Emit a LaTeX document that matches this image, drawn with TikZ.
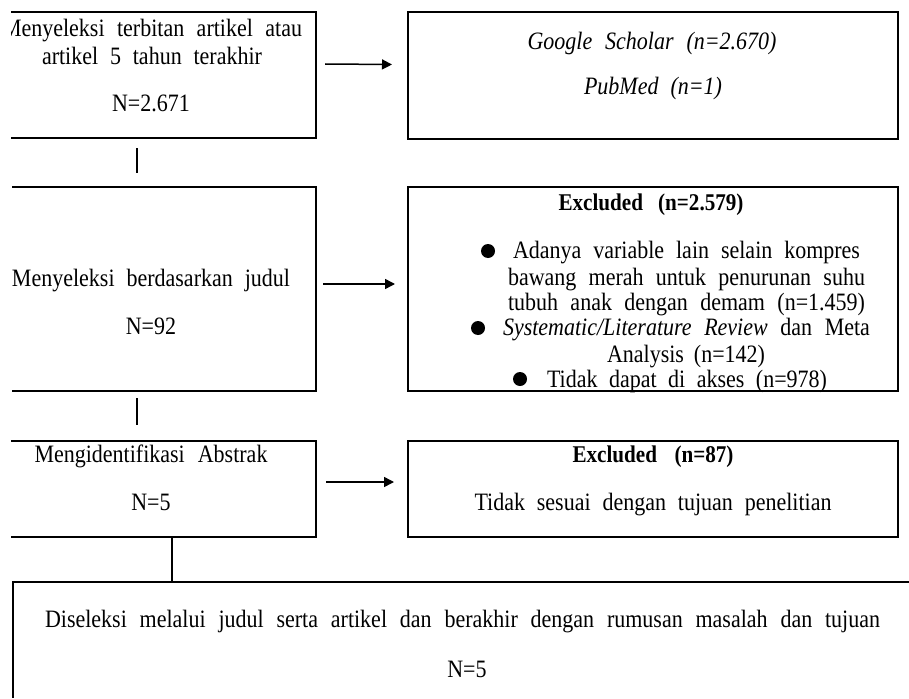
\documentclass[tikz,border=0pt]{standalone}
\usepackage{fontspec}
\setmainfont{Liberation Serif}[FakeStretch=0.88]
\usetikzlibrary{arrows.meta,calc}
\newcommand{\jline}[2]{\makebox[#1pt][s]{#2}}
\newcommand{\boldtxt}{\fontsize{24}{27}\selectfont\bfseries}
\begin{document}
\begin{tikzpicture}[x=1pt,y=-1pt,
  frame/.style={draw=black, line width=1.1pt},
  boxarea/.style={inner sep=0pt, outer sep=0pt, rectangle},
  rbox/.style={boxarea, draw=black, line width=1.1pt},
  txt/.style={inner sep=0pt, anchor=base, font=\fontsize{25}{28}\selectfont},
  arr/.style={line width=1.5pt, -{Triangle[length=10pt,width=10pt]}},
  conn/.style={line width=1.1pt},
  bullet/.style={circle, fill=black, inner sep=0pt, minimum size=14pt}]
\useasboundingbox (0,0) rectangle (909,698);
% boxes
\node[boxarea, minimum width=305pt, minimum height=126pt] (b1) at (163.5,75) {};
\node[rbox, minimum width=490pt, minimum height=127pt] (b2) at (653,75.5) {};
\node[boxarea, minimum width=304pt, minimum height=204pt] (b3) at (164,289) {};
\node[rbox, minimum width=490pt, minimum height=204pt] (b4) at (653,289) {};
\node[boxarea, minimum width=305pt, minimum height=96pt] (b5) at (163.5,489) {};
\node[rbox, minimum width=490pt, minimum height=96pt] (b6) at (653,489) {};
\node[boxarea, minimum width=896pt, minimum height=116pt] (b7) at (461,640) {};
\draw[frame] (b1.north west) -- (b1.north east) -- (b1.south east) -- (b1.south west);
\draw[frame] (b3.north west) -- (b3.north east) -- (b3.south east) -- (b3.south west);
\draw[frame] (b5.north west) -- (b5.north east) -- (b5.south east) -- (b5.south west);
\draw[frame] (b7.north east) -- (b7.north west) -- (b7.south west);
% texts
\begin{scope}
\clip (11,0) rectangle (316,140);
\node[txt] (t1) at (152,37) {\jline{300}{Menyeleksi terbitan artikel atau}};
\end{scope}
\node[txt] (t2) at (152,65) {\jline{220}{artikel 5 tahun terakhir}};
\node[txt] (t3) at (151,111) {N=2.671};
\node[txt] (t4) at (652,50) {\itshape\jline{249}{Google Scholar (n=2.670)}};
\node[txt] (t5) at (653,95) {\itshape\jline{138}{PubMed (n=1)}};
\node[txt] (t6) at (151,286) {\jline{278}{Menyeleksi berdasarkan judul}};
\node[txt] (t7) at (151,334) {N=92};
\node[txt] (t8) at (651,210) {\boldtxt\jline{185}{Excluded (n=2.579)}};
\node[bullet] (d1) at (488,251) {};
\node[txt] (t9) at (686.5,258) {\jline{347}{Adanya variable lain selain kompres}};
\node[txt] (t10) at (686.5,285) {\jline{357}{bawang merah untuk penurunan suhu}};
\node[txt] (t11) at (686.5,310) {\jline{357}{tubuh anak dengan demam (n=1.459)}};
\node[bullet] (d2) at (478,328) {};
\node[txt] (t12) at (686.5,335) {\jline{367}{\textit{Systematic/Literature} \textit{Review} dan Meta}};
\node[txt] (t13) at (686,362) {\jline{158}{Analysis (n=142)}};
\node[bullet] (d3) at (520,379) {};
\node[txt] (t14) at (687,387) {\jline{280}{Tidak dapat di akses (n=978)}};
\node[txt] (t15) at (151,462) {\jline{233}{Mengidentifikasi Abstrak}};
\node[txt] (t16) at (151,510) {N=5};
\node[txt] (t17) at (653,462) {\boldtxt\jline{161}{Excluded (n=87)}};
\node[txt] (t18) at (653,510) {\jline{357}{Tidak sesuai dengan tujuan penelitian}};
\node[txt] (t19) at (462.5,627) {\jline{835}{Diseleksi melalui judul serta artikel dan berakhir dengan rumusan masalah dan tujuan}};
\node[txt] (t20) at (467,677) {N=5};
% connectors
\draw[arr] ([xshift=9pt,yshift=11pt]b1.east) -- ([xshift=-16pt,yshift=11pt]b2.west);
\draw[arr] ([xshift=7pt,yshift=5pt]b3.east) -- ([xshift=-13pt,yshift=5pt]b4.west);
\draw[arr] ([xshift=10pt,yshift=7pt]b5.east) -- ([xshift=-14pt,yshift=7pt]b6.west);
\draw[conn] ([xshift=-26.5pt,yshift=-10pt]b1.south) -- ([xshift=-27pt,yshift=14pt]b3.north);
\draw[conn] ([xshift=-27pt,yshift=-7pt]b3.south) -- ([xshift=-26.5pt,yshift=16pt]b5.north);
\draw[conn] ([xshift=8.5pt]b5.south) -- ([xshift=8.5pt]b5.south |- b7.north);
\end{tikzpicture}
\end{document}
